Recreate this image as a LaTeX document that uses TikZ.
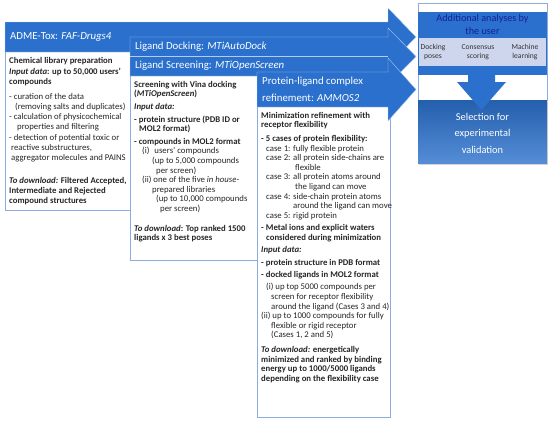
\documentclass[tikz,border=0pt]{standalone}
\usepackage{fontspec}
\setmainfont{Carlito}
\usetikzlibrary{shadows}
\definecolor{bm}{RGB}{42,112,204}
\definecolor{bd}{RGB}{143,170,220}
\definecolor{cellc}{RGB}{205,214,236}
\definecolor{navy}{RGB}{22,32,150}
\begin{document}
\begin{tikzpicture}[x=1pt,y=-1pt,
  bodytxt/.style={anchor=north west, align=left, inner sep=0pt, font=\fontsize{8.75}{9.6}\selectfont, text=black!85},
  hdr/.style={anchor=west, align=left, inner sep=0pt, text=white, font=\fontsize{10.8}{16.5}\selectfont},
  boxb/.style={draw=bd, line width=0.6pt, fill=white},
  arr/.style={fill=bm, draw=white!65!bm, line width=0.4pt},
  celltxt/.style={align=center, inner sep=0pt, font=\fontsize{7.6}{9.6}\selectfont, text=black!80}]
\useasboundingbox (0,0) rectangle (550,424);

% white boxes
\draw[boxb] (5,22) rectangle (130,210);
\draw[boxb] (130,37) rectangle (257,260);
\draw[boxb] (257,72) rectangle (390,417);

% arrows
\draw[arr] (5,22) -- (388,22) -- (388,8) -- (416,37) -- (388,66) -- (388,52) -- (5,52) -- cycle;
\draw[arr] (130,37) -- (388,37) -- (388,28) -- (416,56.5) -- (388,85) -- (388,76) -- (130,76) -- cycle;
\draw[white!65!bm, line width=0.5pt] (130,56.5) -- (388,56.5);
\draw[arr] (257,72) -- (388,72) -- (388,58) -- (416,89.5) -- (388,121) -- (388,107) -- (257,107) -- cycle;

% headers
\node[hdr] (h1) at (10,37) {ADME-Tox: \textit{FAF-Drugs4}};
\node[hdr] (h2) at (135,47) {Ligand Docking: \textit{MTiAutoDock}};
\node[hdr] (h3) at (135,66) {Ligand Screening: \textit{MTiOpenScreen}};
\node[hdr] (h4) at (262,89.5) {Protein-ligand complex\\refinement: \textit{AMMOS2}};

% box 1 text
\node[bodytxt, font=\fontsize{8.75}{10.1}\selectfont] (t1) at (9,57) {\textbf{Chemical library preparation}\\[1pt]
\textbf{\textit{Input data}: up to 50,000 users'}\\
\textbf{compounds}\\[5pt]
- curation of the data\\
\hspace*{6pt}(removing salts and duplicates)\\
- calculation of physicochemical\\
\hspace*{8pt}properties and filtering\\
- detection of potential toxic or\\
\hspace*{2pt}reactive substructures,\\
\hspace*{2pt}aggregator molecules and PAINS\\[13pt]
\textbf{\textit{To download:} Filtered Accepted,}\\
\textbf{Intermediate and Rejected}\\
\textbf{compound structures}};

% box 2 text
\node[bodytxt] (t2) at (134,81) {\textbf{Screening with Vina docking}\\
\textbf{(\textit{MTiOpenScreen})}\\[3pt]
\textbf{\textit{Input data:}}\\[3pt]
\textbf{- protein structure (PDB ID or}\\
\hspace*{5pt}\textbf{MOL2 format)}\\[3pt]
\textbf{- compounds in MOL2 format}\\
\hspace*{8pt}(i)\hspace{3pt} users' compounds\\
\hspace*{18pt}(up to 5,000 compounds\\
\hspace*{22pt}per screen)\\
\hspace*{8pt}(ii) one of the five \textit{in house}-\\
\hspace*{18pt}prepared libraries\\
\hspace*{22pt}(up to 10,000 compounds\\
\hspace*{26pt}per screen)\\[10pt]
\textbf{\textit{To download}: Top ranked 1500}\\
\textbf{ligands x 3 best poses}};

% box 3 text
\node[bodytxt] (t3) at (261,112) {\textbf{Minimization refinement with}\\
\textbf{receptor flexibility}\\[4pt]
\textbf{- 5 cases of protein flexibility:}\\
\hspace*{5pt}case 1: fully flexible protein\\
\hspace*{5pt}case 2: all protein side-chains are\\
\hspace*{34pt}flexible\\
\hspace*{5pt}case 3: all protein atoms around\\
\hspace*{34pt}the ligand can move\\
\hspace*{5pt}case 4: side-chain protein atoms\\
\hspace*{32pt}around the ligand can move\\
\hspace*{5pt}case 5: rigid protein\\[3pt]
\textbf{- Metal ions and explicit waters}\\
\hspace*{5pt}\textbf{considered during minimization}\\[2.5pt]
\textbf{\textit{Input data:}}\\[3pt]
\textbf{- protein structure in PDB format}\\[2.5pt]
\textbf{- docked ligands in MOL2 format}\\[3pt]
\hspace*{5pt}(i) up top 5000 compounds per\\
\hspace*{10pt}screen for receptor flexibility\\
\hspace*{10pt}around the ligand (Cases 3 and 4)\\
(ii) up to 1000 compounds for fully\\
\hspace*{10pt}flexible or rigid receptor\\
\hspace*{10pt}(Cases 1, 2 and 5)\\[5pt]
\textbf{\textit{To download:} energetically}\\
\textbf{minimized and ranked by binding}\\
\textbf{energy up to 1000/5000 ligands}\\
\textbf{depending on the flexibility case}};

% right column
\draw[boxb] (418,3) rectangle (547,100);
\fill[bm] (418,12) rectangle (547,75);
\fill[cellc] (419,38) rectangle (546,66);
\node[align=center, inner sep=0pt, text=navy, font=\fontsize{10.2}{12.5}\selectfont] (add) at (482.5,24.5) {Additional analyses by\\the user};
\node[celltxt] (c1) at (433,52) {Docking\\poses};
\node[celltxt] (c2) at (478,52) {Consensus\\scoring};
\node[celltxt] (c3) at (525,52) {Machine\\learning};
\shade[top color=bm!85!black, bottom color=bm!80!white, drop shadow={opacity=0.35, shadow xshift=1pt, shadow yshift=-2pt}] (418,100) rectangle (547,163);
\fill[bm] (468,66) -- (495,66) -- (495,82) -- (506,82) -- (481.5,110) -- (457,82) -- (468,82) -- cycle;
\node[align=center, inner sep=0pt, text=white, font=\fontsize{10.4}{16.5}\selectfont] (sel) at (482.5,133) {Selection for\\experimental\\validation};
\end{tikzpicture}
\end{document}
